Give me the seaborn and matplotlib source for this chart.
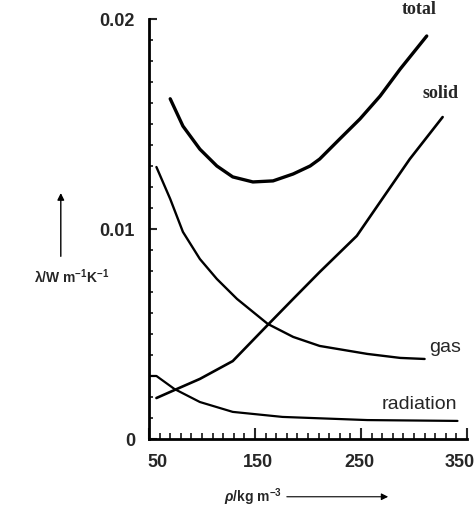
import numpy as np
import pandas as pd
import matplotlib.pyplot as plt
import matplotlib.transforms as mtransforms
import seaborn as sns
from matplotlib.ticker import MultipleLocator

# values
total_x = [70, 82, 98, 114, 129, 148, 167, 186, 202, 211, 230, 249, 268, 287, 312]
total_y = [0.0162, 0.0149, 0.0138, 0.0130, 0.01248, 0.01224, 0.01229, 0.01262,
           0.0130, 0.01333, 0.01429, 0.01524, 0.01633, 0.01762, 0.01919]

solid_x = [57, 74, 98, 129, 162, 186, 211, 246, 270, 296, 327]
solid_y = [0.00195, 0.00233, 0.00286, 0.00371, 0.00543, 0.00667, 0.00795,
           0.00967, 0.01143, 0.01333, 0.01533]

gas_x = [57, 70, 82, 98, 114, 133, 162, 186, 211, 256, 287, 310]
gas_y = [0.01295, 0.01143, 0.00986, 0.00857, 0.00762, 0.00667, 0.00548,
         0.00486, 0.00443, 0.00405, 0.00386, 0.00381]

rad_x = [50, 57, 74, 98, 129, 176, 256, 341]
rad_y = [0.0030, 0.0030, 0.00238, 0.00176, 0.00129, 0.00105, 0.00090, 0.00086]

xticks = [50, 150, 250, 350]
yticks = [0, 0.01, 0.02]
ytick_labels = ["0", "0.01", "0.02"]

sns.set_style("ticks")
plt.rcParams['font.family'] = ['Liberation Sans', 'DejaVu Sans']
plt.rcParams['mathtext.fontset'] = 'custom'
plt.rcParams['mathtext.rm'] = 'Liberation Sans:bold'
plt.rcParams['mathtext.it'] = 'Liberation Sans:bold:italic'
plt.rcParams['mathtext.default'] = 'rm'

fig = plt.figure(figsize=(4.75, 5.1), dpi=100)
ax = fig.add_axes([0.3137, 0.1373, 0.6695, 0.8235])

sns.lineplot(x=total_x, y=total_y, ax=ax, color='black', lw=2.4)
sns.lineplot(x=solid_x, y=solid_y, ax=ax, color='black', lw=1.9)
sns.lineplot(x=gas_x, y=gas_y, ax=ax, color='black', lw=1.7)
sns.lineplot(x=rad_x, y=rad_y, ax=ax, color='black', lw=1.6)

ax.set_xlim(50, 350)
ax.set_ylim(0, 0.02)
sns.despine(ax=ax)
for s in ['left', 'bottom']:
    ax.spines[s].set_linewidth(2)
    ax.spines[s].set_color('black')

ax.set_xticks(xticks)
ax.set_xticklabels([str(v) for v in xticks], fontsize=13, fontweight='bold')
ax.set_yticks(yticks)
ax.set_yticklabels(ytick_labels, fontsize=13, fontweight='bold')
ax.xaxis.set_minor_locator(MultipleLocator(10))
ax.yaxis.set_minor_locator(MultipleLocator(0.001))
ax.tick_params(axis='x', which='major', direction='in', length=8, width=1.5, pad=10)
ax.tick_params(axis='x', which='minor', direction='in', length=4, width=1.3)
ax.tick_params(axis='y', which='major', direction='in', length=6, width=1.5, pad=10)
ax.tick_params(axis='y', which='minor', direction='in', length=3, width=1.3)

# the printed labels sit a little off their ticks
shifts = [8, 3, -2, -7]
for lab, dx in zip(ax.get_xticklabels(), shifts):
    lab.set_transform(lab.get_transform() +
                      mtransforms.ScaledTranslation(dx / 100, 0, fig.dpi_scale_trans))

# curve labels
ax.text(305, 0.0201, "total", fontsize=13, family='Liberation Serif',
        fontweight='bold', ha='center', va='bottom', clip_on=False)
ax.text(325, 0.0161, "solid", fontsize=13, family='Liberation Serif',
        fontweight='bold', ha='center', va='bottom')
ax.text(329, 0.0044, "gas", fontsize=14, ha='center', va='center')
ax.text(305, 0.0013, "radiation", fontsize=14, ha='center', va='bottom')

# axis titles with arrows
fig.text(0.152, 0.457, "λ/W m$^{-1}$K$^{-1}$", fontsize=10, fontweight='bold',
         ha='center', va='center')
ax.annotate("", xy=(0.128, 0.625), xytext=(0.128, 0.49),
            xycoords='figure fraction', textcoords='figure fraction',
            arrowprops=dict(arrowstyle='-|>', color='black', lw=1,
                            mutation_scale=10))
fig.text(0.533, 0.025, r"$\mathit{\rho}$/kg m$^{-3}$", fontsize=10, fontweight='bold',
         ha='center', va='center')
ax.annotate("", xy=(0.823, 0.024), xytext=(0.598, 0.024),
            xycoords='figure fraction', textcoords='figure fraction',
            arrowprops=dict(arrowstyle='-|>', color='black', lw=0.8,
                            mutation_scale=10))

fig.savefig("out.png", dpi=100)
